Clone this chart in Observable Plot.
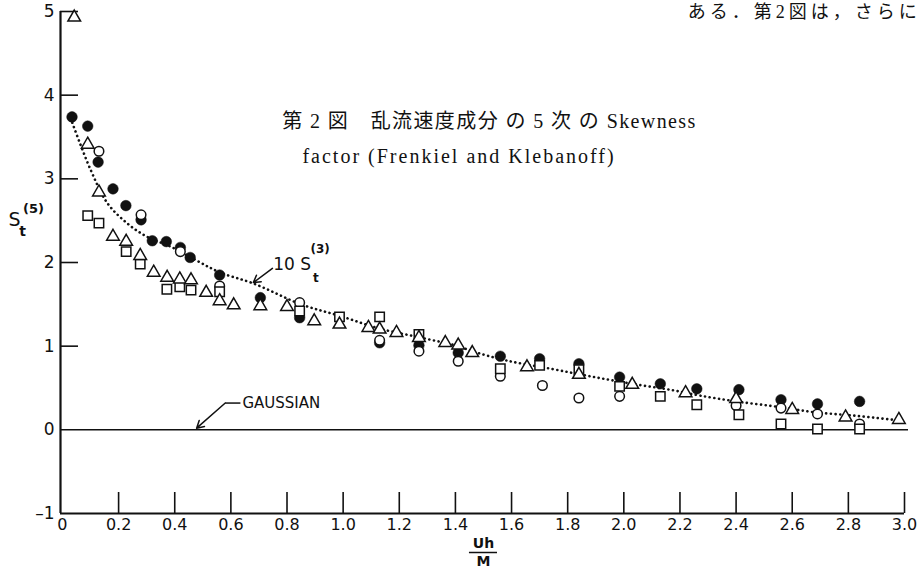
<!DOCTYPE html>
<html>
<head>
<meta charset="utf-8">
<script src="https://cdn.jsdelivr.net/npm/d3@7"></script>
<script src="https://cdn.jsdelivr.net/npm/@observablehq/plot@0.6"></script>
<style>
  body { margin: 0; overflow: hidden; background: #fff; }
  #chart { position: relative; width: 924px; height: 569px; overflow: hidden; }
</style>
</head>
<body>
<div id="chart"></div>
<script>
// ---- data ----
const filledX = [0.034, 0.09, 0.127, 0.18, 0.226, 0.28, 0.32, 0.37, 0.42, 0.455, 0.56, 0.705, 0.845, 1.13, 1.27, 1.41, 1.56, 1.70, 1.84, 1.985, 2.13, 2.26, 2.41, 2.56, 2.69, 2.84];
const filledY = [3.74, 3.63, 3.20, 2.88, 2.68, 2.51, 2.26, 2.25, 2.18, 2.06, 1.85, 1.58, 1.34, 1.04, 1.01, 0.92, 0.88, 0.85, 0.79, 0.63, 0.55, 0.49, 0.48, 0.36, 0.31, 0.34];

const openX = [0.13, 0.28, 0.42, 0.56, 0.845, 1.13, 1.27, 1.41, 1.56, 1.71, 1.84, 1.985, 2.40, 2.56, 2.69, 2.84];
const openY = [3.33, 2.57, 2.13, 1.72, 1.52, 1.07, 0.94, 0.82, 0.64, 0.53, 0.38, 0.40, 0.29, 0.26, 0.19, 0.07];

const triX = [0.042, 0.09, 0.13, 0.18, 0.227, 0.277, 0.325, 0.373, 0.418, 0.458, 0.512, 0.56, 0.61, 0.705, 0.80, 0.897, 0.987, 1.09, 1.13, 1.19, 1.27, 1.364, 1.41, 1.46, 1.655, 1.84, 2.03, 2.22, 2.40, 2.60, 2.79, 2.98];
const triY = [4.93, 3.41, 2.84, 2.31, 2.25, 2.08, 1.88, 1.82, 1.80, 1.79, 1.64, 1.54, 1.49, 1.48, 1.47, 1.30, 1.26, 1.22, 1.20, 1.16, 1.10, 1.04, 1.01, 0.92, 0.75, 0.66, 0.54, 0.44, 0.37, 0.24, 0.15, 0.12];

const sqX = [0.09, 0.13, 0.227, 0.277, 0.372, 0.418, 0.458, 0.56, 0.845, 0.987, 1.13, 1.27, 1.56, 1.70, 1.84, 1.985, 2.13, 2.26, 2.41, 2.56, 2.69, 2.84];
const sqY = [2.56, 2.47, 2.13, 1.98, 1.68, 1.71, 1.67, 1.65, 1.42, 1.35, 1.35, 1.14, 0.73, 0.77, 0.72, 0.52, 0.40, 0.30, 0.18, 0.07, 0.01, 0.01];

// dotted curve 10 S_t^(3)
const curveX = [0.035, 0.10, 0.16, 0.23, 0.30, 0.385, 0.48, 0.562, 0.68, 0.85, 0.99, 1.13, 1.28, 1.41, 1.46, 1.58, 1.74, 1.88, 2.03, 2.18, 2.27, 2.40, 2.56, 2.68, 2.82, 2.96];
const curveY = [3.67, 3.11, 2.71, 2.47, 2.31, 2.19, 2.02, 1.88, 1.75, 1.50, 1.36, 1.21, 1.10, 1.00, 0.94, 0.83, 0.73, 0.64, 0.55, 0.47, 0.41, 0.34, 0.27, 0.21, 0.17, 0.12];

const xTickLabels = [0, 0.2, 0.4, 0.6, 0.8, 1.0, 1.2, 1.4, 1.6, 1.8, 2.0, 2.2, 2.4, 2.6, 2.8, 3.0];
const xTickMarks = [0.2, 0.4, 0.6, 0.8, 1.0, 1.2, 1.4, 1.6, 1.8, 2.0, 2.2, 2.4, 2.6, 2.8, 3.0];
const yTickLabels = [-1, 0, 1, 2, 3, 4, 5];
const yTickMarks = [1, 2, 3, 4, 5];

const titleLines = ["第 2 図　乱流速度成分 の 5 次 の Skewness", "factor (Frenkiel and Klebanoff)"];
const topText = "ある．第2図は，さらに";

// ---- build ----
const rows = (xs, ys) => xs.map((x, i) => ({x, y: ys[i]}));
const filled = rows(filledX, filledY);
const open = rows(openX, openY);
const tri = rows(triX, triY);
const sq = rows(sqX, sqY);
const curve = rows(curveX, curveY);

const W = 924, H = 569, mL = 60, mR = 20, mT = 11, mB = 56;
const plotW = W - mL - mR, plotH = H - mT - mB;
const xMin = -0.007;
const ink = "#111";
const sans = "'DejaVu Sans', sans-serif";
const serif = "'Liberation Serif', 'Noto Sans CJK JP', serif";

const chart = Plot.plot({
  width: W, height: H,
  marginLeft: mL, marginRight: mR, marginTop: mT, marginBottom: mB,
  x: {domain: [xMin, 3.0], axis: null},
  y: {domain: [-1, 5], axis: null},
  style: {fontFamily: sans, background: "#fff", color: ink},
  marks: [
    Plot.axisX(xTickLabels, {tickSize: 0, tickPadding: 5, fontSize: 16, tickFormat: d => d === 0 ? "0" : d.toFixed(1)}),
    Plot.axisY(yTickLabels, {tickSize: 0, tickPadding: 6, fontSize: 17, tickFormat: d => d < 0 ? "–" + (-d) : String(d)}),
    Plot.tickX(xTickMarks, {x: d => d, insetTop: plotH - 21, stroke: ink, strokeWidth: 1.6}),
    Plot.tickY(yTickMarks, {y: d => d, insetRight: plotW - 18, stroke: ink, strokeWidth: 1.6}),
    Plot.ruleX([xMin], {stroke: ink, strokeWidth: 2.2}),
    Plot.ruleY([-1], {stroke: ink, strokeWidth: 2}),
    Plot.ruleY([0], {stroke: ink, strokeWidth: 1.5, insetRight: -4}),
    Plot.line(curve, {x: "x", y: "y", curve: "catmull-rom", stroke: ink, strokeWidth: 2.6, strokeDasharray: "0.1 4.6", strokeLinecap: "round"}),
    Plot.dot(filled, {x: "x", y: "y", r: 5.3, fill: ink, stroke: ink, strokeWidth: 0.5}),
    Plot.dot(open, {x: "x", y: "y", r: 4.8, fill: "#fff", stroke: ink, strokeWidth: 1.5}),
    Plot.dot(sq, {x: "x", y: "y", symbol: "square", r: 5.3, fill: "#fff", stroke: ink, strokeWidth: 1.5}),
    Plot.dot(tri, {x: "x", y: "y", symbol: "triangle", r: 4.7, fill: "#fff", stroke: ink, strokeWidth: 1.5}),
    // title inside plot
    Plot.text([titleLines[0]], {x: 0.783, y: 3.68, text: d => d, textAnchor: "start", lineAnchor: "middle", fontSize: 20, fontFamily: serif, fill: ink}),
    Plot.text([titleLines[1]], {x: 0.855, y: 3.27, text: d => d, textAnchor: "start", lineAnchor: "middle", fontSize: 20, fontFamily: serif, fill: ink}),
    // cut-off body text at top right
    Plot.text([topText], {x: 2.228, y: 5, dy: 1, text: d => d, textAnchor: "start", lineAnchor: "middle", fontSize: 18, fontFamily: serif, fill: ink}),
    // y label S_t^(5)
    Plot.text(["S"], {x: xMin, y: 2.51, dx: -46, text: d => d, textAnchor: "middle", lineAnchor: "middle", fontSize: 19, fill: ink}),
    Plot.text(["(5)"], {x: xMin, y: 2.64, dx: -27, text: d => d, textAnchor: "middle", lineAnchor: "middle", fontSize: 13, fontWeight: "bold", fill: ink}),
    Plot.text(["t"], {x: xMin, y: 2.37, dx: -38, text: d => d, textAnchor: "middle", lineAnchor: "middle", fontSize: 14, fontWeight: "bold", fill: ink}),
    // x label Uh / M
    Plot.text(["Uh"], {x: 1.5, y: -1, dy: 30, text: d => d, textAnchor: "middle", lineAnchor: "middle", fontSize: 14, fontWeight: "bold", fill: ink}),
    Plot.text(["M"], {x: 1.5, y: -1, dy: 48, text: d => d, textAnchor: "middle", lineAnchor: "middle", fontSize: 14, fontWeight: "bold", fill: ink}),
    Plot.ruleY([-1], {x1: 1.45, x2: 1.55, dy: 39, stroke: ink, strokeWidth: 1.5}),
    // 10 S_t^(3) annotation
    Plot.text(["10 S"], {x: 0.751, y: 1.98, text: d => d, textAnchor: "start", lineAnchor: "middle", fontSize: 17, fill: ink}),
    Plot.text(["(3)"], {x: 0.918, y: 2.16, text: d => d, textAnchor: "middle", lineAnchor: "middle", fontSize: 12, fontWeight: "bold", fill: ink}),
    Plot.text(["t"], {x: 0.903, y: 1.81, text: d => d, textAnchor: "middle", lineAnchor: "middle", fontSize: 12, fontWeight: "bold", fill: ink}),
    Plot.arrow([{x1: 0.748, y1: 1.93, x2: 0.680, y2: 1.76}], {x1: "x1", y1: "y1", x2: "x2", y2: "y2", stroke: ink, strokeWidth: 1.5, headLength: 8}),
    // GAUSSIAN annotation
    Plot.text(["GAUSSIAN"], {x: 0.641, y: 0.32, text: d => d, textAnchor: "start", lineAnchor: "middle", fontSize: 15, fill: ink}),
    Plot.link([{x1: 0.634, y1: 0.32, x2: 0.580, y2: 0.32}], {x1: "x1", y1: "y1", x2: "x2", y2: "y2", stroke: ink, strokeWidth: 1.5}),
    Plot.arrow([{x1: 0.580, y1: 0.32, x2: 0.478, y2: 0.02}], {x1: "x1", y1: "y1", x2: "x2", y2: "y2", stroke: ink, strokeWidth: 1.5, headLength: 8})
  ]
});

d3.select(chart).selectAll("text").each(function () {
  const t = this.textContent;
  if (t === titleLines[0]) { this.setAttribute("letter-spacing", "1.4"); this.style.fontFamily = serif; }
  else if (t === titleLines[1]) { this.setAttribute("letter-spacing", "2"); this.style.fontFamily = serif; }
  else if (t === topText) { this.setAttribute("letter-spacing", "4"); this.style.fontFamily = serif; }
});
document.getElementById("chart").append(chart);
</script>
</body>
</html>
